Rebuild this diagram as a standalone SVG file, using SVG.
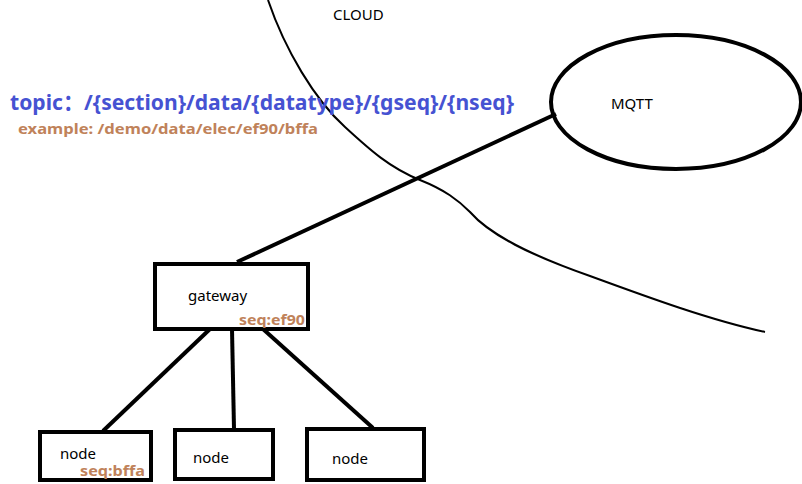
<svg xmlns="http://www.w3.org/2000/svg" width="802" height="484" viewBox="0 0 802 484">
<style>
.box{fill:#fff;stroke:#000;stroke-width:4}
.lbl{font-family:"Noto Sans","Open Sans","Liberation Sans",sans-serif;font-size:15px;fill:#000}
.seq{font-family:"Noto Sans","Open Sans","Liberation Sans",sans-serif;font-size:15px;font-weight:bold;fill:#c0825a}
.edge{stroke:#000;stroke-width:4;fill:none}
</style>
<rect width="802" height="484" fill="#fff"/>
<path id="cloud-boundary" d="M268,0 C285,50 315,100 345,127 C370,150 390,168 420,180 C445,190 458,200 470,212 C490,235 530,255 590,276 C650,298 710,320 765,332" fill="none" stroke="#000" stroke-width="2"/>
<text x="333" y="20" class="lbl" font-size="14">CLOUD</text>
<g id="topic">
<text x="10" y="110" font-family="'Noto Sans','Noto Sans CJK SC',sans-serif" font-size="22" font-weight="bold" fill="#4652d2" textLength="504" lengthAdjust="spacingAndGlyphs">topic：/{section}/data/{datatype}/{gseq}/{nseq}</text>
<text x="18" y="134" class="seq" textLength="300" lengthAdjust="spacingAndGlyphs">example: /demo/data/elec/ef90/bffa</text>
</g>
<g id="connectors">
<line class="edge" x1="556" y1="114" x2="237" y2="262"/>
<line class="edge" x1="210" y1="329" x2="103" y2="431"/>
<line class="edge" x1="232" y1="329" x2="234" y2="429"/>
<line class="edge" x1="263" y1="329" x2="373" y2="428"/>
</g>
<g id="mqtt">
<ellipse cx="676" cy="102" rx="125" ry="67" fill="none" stroke="#000" stroke-width="4"/>
<text x="611" y="109" class="lbl" font-size="14">MQTT</text>
</g>
<g id="gateway">
<rect class="box" x="155" y="264" width="153" height="65"/>
<text x="188" y="301" class="lbl">gateway</text>
<text x="239" y="325" class="seq" textLength="66" lengthAdjust="spacingAndGlyphs">seq:ef90</text>
</g>
<g id="node1">
<rect class="box" x="40" y="432" width="111" height="48"/>
<text x="60" y="459" class="lbl">node</text>
<text x="80" y="476" class="seq" textLength="65" lengthAdjust="spacingAndGlyphs">seq:bffa</text>
</g>
<g id="node2">
<rect class="box" x="175" y="430" width="98" height="49"/>
<text x="193" y="463" class="lbl">node</text>
</g>
<g id="node3">
<rect class="box" x="307" y="429" width="117" height="51"/>
<text x="332" y="464" class="lbl">node</text>
</g>
</svg>
